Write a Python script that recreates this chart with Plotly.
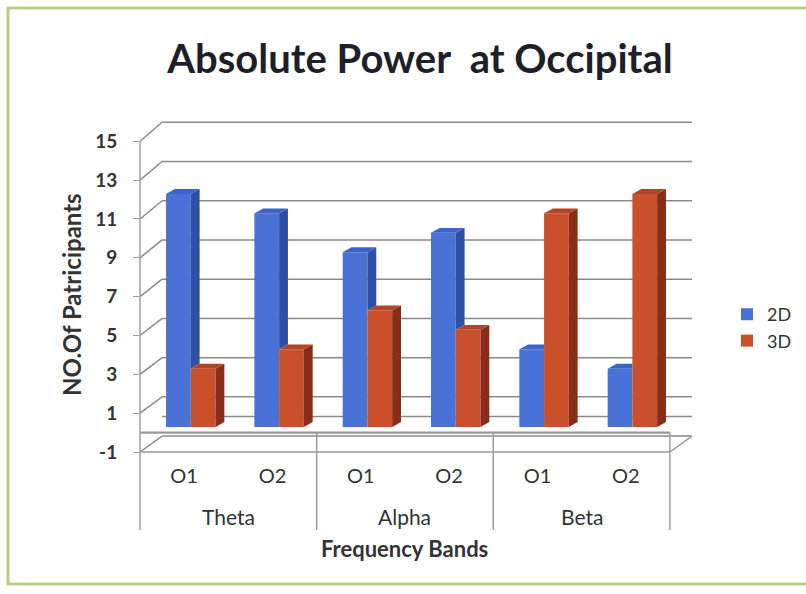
import plotly.graph_objects as go

# ---- data -------------------------------------------------------------
bands = ["Theta", "Alpha", "Beta"]
channels = ["O1", "O2", "O1", "O2", "O1", "O2"]
values_2d = [12, 11, 9, 10, 4, 3]
values_3d = [3, 4, 6, 5, 11, 12]
y_ticks = [-1, 1, 3, 5, 7, 9, 11, 13, 15]
y_tick_text = [str(v) for v in y_ticks]

# ---- page / axis geometry --------------------------------------------
W, H = 806, 594
L, R, T, B = 140, 114, 118, 142
X_MIN, X_MAX = -0.5, 5.75          # front axis plus the wall depth
Y_MIN, Y_MAX = -1.0, 16.2
PLOT_W, PLOT_H = W - L - R, H - T - B

WALL_DX = 0.25                       # depth offset of the back wall (x units)
WALL_SCALE, WALL_LIFT = 1.01, 0.82   # back wall vertical mapping

BAR_W = 0.28                         # width of each column face
BAR_SHIFT_X = 0.075                  # columns sit a little behind the front edge
BAR_LIFT = 0.29
SIDE_DX, TOP_DY = 0.10, 0.25         # visible depth of a column

BLUE_FRONT, BLUE_SIDE, BLUE_TOP = "#4a72d6", "#2e4fa6", "#3d63c4"
RED_FRONT, RED_SIDE, RED_TOP = "#c9502a", "#8a2d18", "#b0452a"
GRID = "#8a8a8a"
AXIS = "#999999"
TEXT = "#333333"
FONT = "Lato"


def back_y(v):
    return Y_MIN + WALL_SCALE * (v - Y_MIN) + WALL_LIFT


def px(xd):
    return (xd - X_MIN) / (X_MAX - X_MIN)


def py(yd):
    return (yd - Y_MIN) / (Y_MAX - Y_MIN)


def paper_from_pixel_y(p):
    return (H - B - p) / PLOT_H


def paper_from_pixel_x(p):
    return (p - L) / PLOT_W


def seg(x0, y0, x1, y1, color=GRID, width=1.5):
    return dict(type="line", xref="paper", yref="paper",
                x0=x0, y0=y0, x1=x1, y1=y1,
                line=dict(color=color, width=width), layer="below")


n = len(channels)
left, right = -0.5, n - 0.5
shapes = []

# back wall gridlines (ticks plus the zero level)
for v in y_ticks + [0]:
    shapes.append(seg(px(left + WALL_DX), py(back_y(v)),
                      px(right + WALL_DX), py(back_y(v))))
# side wall diagonals
for v in y_ticks:
    shapes.append(seg(px(left), py(v), px(left + WALL_DX), py(back_y(v))))

label_bottom = paper_from_pixel_y(530)
# front vertical axis, continuing down as the first group divider
shapes.append(seg(px(left), py(y_ticks[-1]), px(left), label_bottom, AXIS, 1.4))
# category axis at zero and the floor's front edge
shapes.append(seg(px(left), py(0), px(right), py(0), AXIS, 2.2))
shapes.append(seg(px(left), py(-1), px(right), py(-1), AXIS, 1.6))
shapes.append(seg(px(right), py(-1), px(right + WALL_DX), py(back_y(-1)), AXIS, 1.4))
# group dividers
for k in range(1, len(bands) + 1):
    xb = left + 2 * k
    shapes.append(seg(px(xb), py(0), px(xb), label_bottom, AXIS, 1.4))

# outer frame
shapes.append(dict(type="rect", xref="paper", yref="paper",
                   x0=paper_from_pixel_x(8), x1=paper_from_pixel_x(830),
                   y0=paper_from_pixel_y(584), y1=paper_from_pixel_y(8),
                   line=dict(color="#bccf84", width=3), layer="below"))

fig = go.Figure()

xs = [i + BAR_SHIFT_X for i in range(n)]
fig.add_trace(go.Bar(name="2D", x=xs, y=values_2d, base=BAR_LIFT, width=BAR_W,
                     offset=-BAR_W, marker=dict(color=BLUE_FRONT, line_width=0)))
fig.add_trace(go.Bar(name="3D", x=xs, y=values_3d, base=BAR_LIFT, width=BAR_W,
                     offset=0, marker=dict(color=RED_FRONT, line_width=0)))


def face(pts, color):
    fig.add_trace(go.Scatter(x=[p[0] for p in pts] + [pts[0][0]],
                             y=[p[1] for p in pts] + [pts[0][1]],
                             mode="lines", fill="toself", fillcolor=color,
                             line=dict(width=0, color=color),
                             showlegend=False, hoverinfo="skip"))


for i in range(n):
    c = xs[i]
    t = BAR_LIFT + values_2d[i]
    r = BAR_LIFT + values_3d[i]
    # 2D column: side visible only above the neighbouring 3D column
    if t > r:
        face([(c, r), (c + SIDE_DX, r + TOP_DY), (c + SIDE_DX, t + TOP_DY), (c, t)], BLUE_SIDE)
        face([(c - BAR_W, t), (c, t), (c + SIDE_DX, t + TOP_DY),
              (c - BAR_W + SIDE_DX, t + TOP_DY)], BLUE_TOP)
    else:
        face([(c - BAR_W, t), (c, t), (c, t + TOP_DY),
              (c - BAR_W + SIDE_DX, t + TOP_DY)], BLUE_TOP)
    # 3D column
    e = c + BAR_W
    face([(e, BAR_LIFT), (e + SIDE_DX, BAR_LIFT + TOP_DY),
          (e + SIDE_DX, r + TOP_DY), (e, r)], RED_SIDE)
    face([(c, r), (e, r), (e + SIDE_DX, r + TOP_DY), (c + SIDE_DX, r + TOP_DY)], RED_TOP)

annotations = []
for k, band in enumerate(bands):
    annotations.append(dict(text=band, xref="x", yref="paper", x=2 * k + 0.5,
                            y=paper_from_pixel_y(516), showarrow=False,
                            yanchor="middle", font=dict(family=FONT, size=21, color=TEXT)))
annotations.append(dict(text="<b>Frequency Bands</b>", xref="x", yref="paper", x=2.5,
                        y=paper_from_pixel_y(548), showarrow=False, yanchor="middle",
                        font=dict(family=FONT, size=22, color=TEXT)))
annotations.append(dict(text="<b>NO.Of Patricipants</b>", xref="paper", yref="paper",
                        x=paper_from_pixel_x(71), y=paper_from_pixel_y(295),
                        textangle=-90, showarrow=False, xanchor="center", yanchor="middle",
                        font=dict(family=FONT, size=24, color=TEXT)))

fig.update_layout(
    width=W, height=H,
    margin=dict(l=L, r=R, t=T, b=B, autoexpand=False),
    paper_bgcolor="white", plot_bgcolor="rgba(0,0,0,0)",
    barmode="overlay",
    title=dict(text="<b>Absolute Power  at Occipital</b>", xref="paper",
               x=paper_from_pixel_x(420), xanchor="center",
               yref="container", y=1 - 59 / H, yanchor="middle",
               font=dict(family=FONT, size=40, color="#1f1f2a")),
    xaxis=dict(range=[X_MIN, X_MAX], tickmode="array", tickvals=list(range(n)),
               ticktext=channels, ticks="", showgrid=False, zeroline=False,
               showline=False, ticklabelstandoff=10,
               tickfont=dict(family=FONT, size=20, color=TEXT)),
    yaxis=dict(range=[Y_MIN, Y_MAX], tickmode="array", tickvals=y_ticks,
               ticktext=y_tick_text,
               ticks="outside", ticklen=6, tickcolor=AXIS, tickwidth=1.4,
               showgrid=False, zeroline=False, showline=False, ticklabelstandoff=12,
               tickfont=dict(family=FONT, size=19, color=TEXT, weight="bold")),
    legend=dict(x=paper_from_pixel_x(727), y=paper_from_pixel_y(296),
                xanchor="left", yanchor="top", bgcolor="rgba(0,0,0,0)",
                font=dict(family=FONT, size=18, color=TEXT), tracegroupgap=0),
    shapes=shapes,
    annotations=annotations,
    showlegend=True,
)

fig.write_html("out.html")
